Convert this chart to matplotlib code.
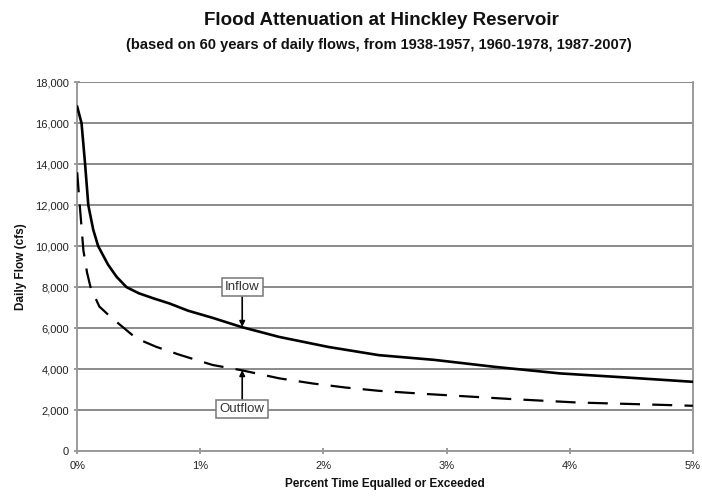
import numpy as np
import matplotlib.pyplot as plt
from matplotlib.ticker import FuncFormatter

plt.rcParams['font.family'] = ['Liberation Sans', 'DejaVu Sans']

# percent of time equalled or exceeded vs daily flow (cfs)
pct_inflow = [0.0, 0.035, 0.064, 0.09, 0.13, 0.17, 0.25, 0.32, 0.40, 0.50, 0.62,
              0.75, 0.90, 1.10, 1.33, 1.64, 2.04, 2.45, 2.90, 3.39, 3.92, 4.46, 5.0]
inflow = [16800, 16000, 14000, 12000, 10800, 10000, 9100, 8500, 8000, 7700, 7450,
          7200, 6850, 6500, 6060, 5570, 5080, 4680, 4450, 4110, 3790, 3590, 3380]

pct_outflow = [0.0, 0.015, 0.03, 0.05, 0.08, 0.11, 0.18, 0.27, 0.40, 0.48, 0.64,
               0.83, 1.10, 1.33, 1.64, 1.91, 2.18, 2.45, 2.85, 3.52, 4.06, 4.60, 5.0]
outflow = [13600, 12400, 11300, 9800, 8700, 7950, 7050, 6550, 5900, 5500, 5090,
           4700, 4200, 3950, 3550, 3300, 3100, 2940, 2780, 2540, 2370, 2280, 2210]

x_ticks = [0, 1, 2, 3, 4, 5]
y_ticks = np.arange(0, 18001, 2000)

fig = plt.figure(figsize=(7.02, 5.04), dpi=100)
ax = fig.add_axes([0.110, 0.105, 0.877, 0.732])

for yv in y_ticks:
    ax.axhline(yv, color='#8a8a8a', lw=1.4, zorder=1)

ax.plot(pct_inflow, inflow, color='black', lw=1.9, zorder=3)
ax.plot(pct_outflow, outflow, color='black', lw=1.6, dashes=(9, 5.5), zorder=3)

ax.set_xlim(0, 5)
ax.set_ylim(0, 18000)
ax.set_xticks(x_ticks)
ax.set_yticks(y_ticks)
ax.xaxis.set_major_formatter(FuncFormatter(lambda v, p: '%d%%' % v))
ax.yaxis.set_major_formatter(FuncFormatter(lambda v, p: '{:,.0f}'.format(v)))
ax.tick_params(axis='both', labelsize=8, colors='#8a8a8a', labelcolor='#222222',
               direction='inout', length=5, width=1.2)
ax.tick_params(axis='x', pad=5)

for s in ['left', 'bottom', 'right']:
    ax.spines[s].set_color('#9a9a9a')
    ax.spines[s].set_linewidth(1.4)
ax.spines['top'].set_visible(False)

ax.set_ylabel('Daily Flow (cfs)', fontsize=8.5, fontweight='bold', color='#111111',
              labelpad=6)
ax.set_xlabel('Percent Time Equalled or Exceeded', fontsize=8.5, fontweight='bold',
              color='#111111', labelpad=5)

box = dict(boxstyle='square,pad=0.25', fc='white', ec='#777777', lw=1.1)
ax.annotate('Inflow', xy=(1.34, 6060), xytext=(1.34, 8000), fontsize=9.5,
            color='#333333', ha='center', va='center', bbox=box, zorder=5,
            arrowprops=dict(arrowstyle='-|>', color='black', lw=1.2,
                            mutation_scale=8, shrinkA=0, shrinkB=0))
ax.annotate('Outflow', xy=(1.34, 3950), xytext=(1.34, 2050), fontsize=9.5,
            color='#333333', ha='center', va='center', bbox=box, zorder=5,
            arrowprops=dict(arrowstyle='-|>', color='black', lw=1.2,
                            mutation_scale=8, shrinkA=0, shrinkB=0))

fig.text(0.543, 0.96, 'Flood Attenuation at Hinckley Reservoir', ha='center',
         va='center', fontsize=13.5, fontweight='bold', color='#111111')
fig.text(0.540, 0.911, '(based on 60 years of daily flows, from 1938-1957, 1960-1978, 1987-2007)',
         ha='center', va='center', fontsize=10.5, fontweight='bold', color='#111111')

plt.savefig('out.png', dpi=100)
plt.close('all')
